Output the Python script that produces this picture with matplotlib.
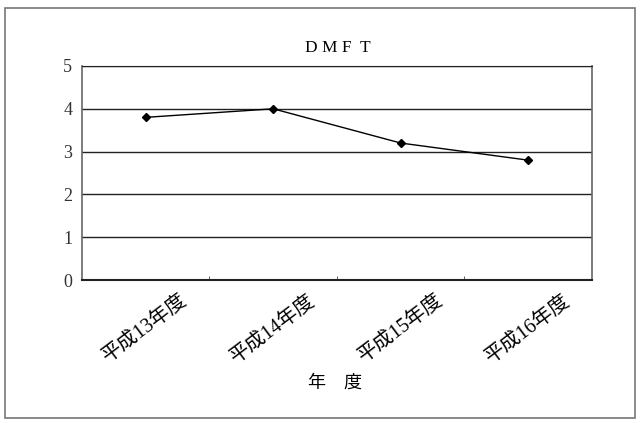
import matplotlib
matplotlib.use("Agg")
import matplotlib.pyplot as plt
from matplotlib.patches import Rectangle
from matplotlib.ticker import FixedLocator

plt.rcParams['font.family'] = ['Liberation Serif', 'Noto Sans CJK JP']

# dati
anni = ["平成13年度", "平成14年度", "平成15年度", "平成16年度"]
dmft = [3.8, 4.0, 3.2, 2.8]
yticks = [0, 1, 2, 3, 4, 5]

fig = plt.figure(figsize=(6.4, 4.23), dpi=100)
ax = fig.add_axes([0.128, 0.338, 0.797, 0.506])

# cornice esterna
fig.patches.append(Rectangle((0.008, 0.012), 0.984, 0.970, transform=fig.transFigure,
                             fill=False, edgecolor="#777777", lw=1.2))

x = list(range(len(anni)))
ax.plot(x, dmft, color="black", lw=1, marker="D", markersize=4.5, zorder=3)

ax.set_xlim(-0.5, len(anni) - 0.5)
ax.set_ylim(0, 5)
ax.set_yticks(yticks)
ax.yaxis.grid(True, color="#222222", lw=1)
ax.set_axisbelow(True)

ax.set_xticks(x)
ax.set_xticklabels(anni, rotation=37, ha="center", va="top", fontsize=14.5)
ax.tick_params(axis="x", which="major", length=0, pad=8)
ax.xaxis.set_minor_locator(FixedLocator([i + 0.5 for i in range(len(anni) - 1)]))
ax.tick_params(axis="x", which="minor", length=3, direction="in", color="#444444")
ax.tick_params(axis="y", length=0, pad=7, labelsize=13, labelcolor="#333333")

for s in ["left", "right"]:
    ax.spines[s].set_color("#666666")
    ax.spines[s].set_linewidth(1.2)
ax.spines["top"].set_color("#222222")
ax.spines["bottom"].set_color("#222222")
ax.spines["bottom"].set_linewidth(1.5)

fig.text(0.528, 0.887, "D M F  T", ha="center", va="center", fontsize=12.5)
fig.text(0.523, 0.095, "年　度", ha="center", va="center", fontsize=13)

fig.savefig("out.png", dpi=100)
